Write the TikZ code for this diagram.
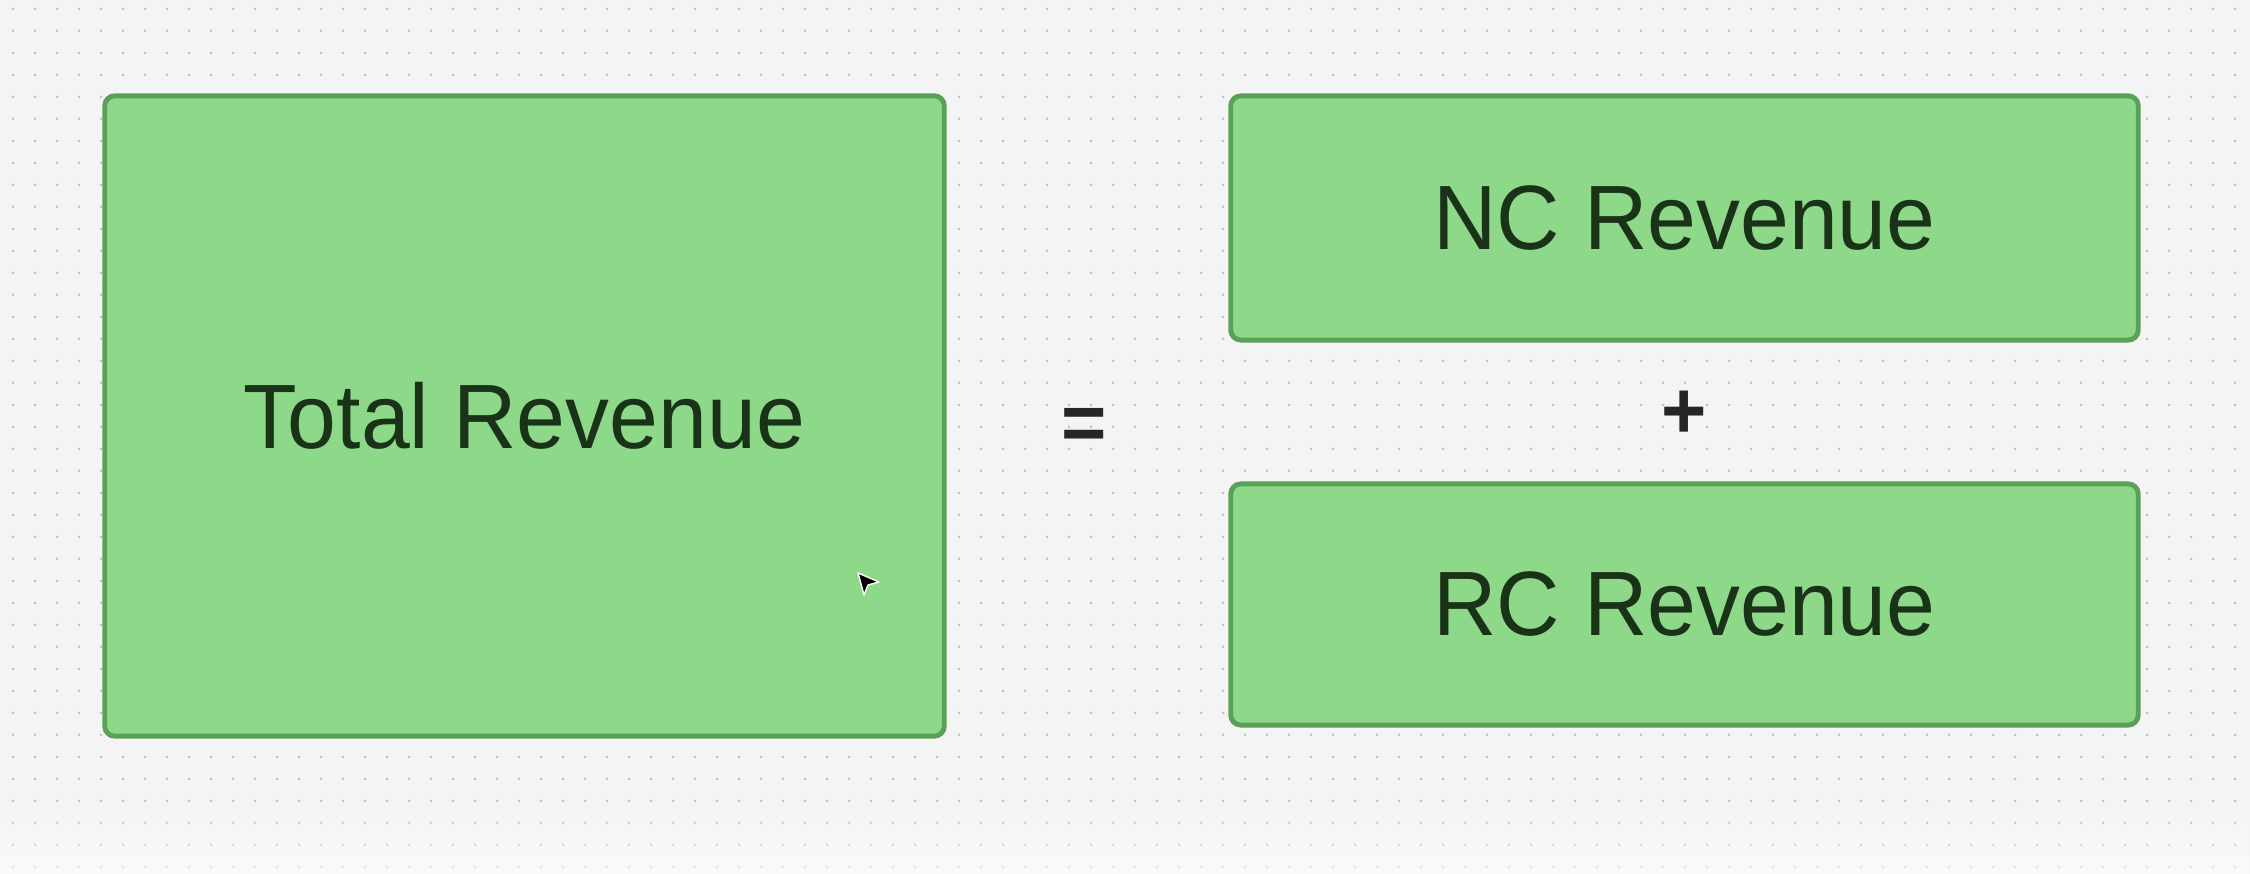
\documentclass[tikz,border=0pt]{standalone}
\usepackage{fontspec}
\usetikzlibrary{fadings}
\newfontfamily\boxfont[FakeStretch=0.96]{Liberation Sans}
\definecolor{revfill}{HTML}{8ED88A}
\definecolor{revline}{HTML}{5AA157}
\definecolor{revtext}{HTML}{1A3318}
\definecolor{canvas}{HTML}{F4F4F4}
\definecolor{griddot}{HTML}{C2C2C2}
\tikzset{
  rev/.style={draw=revline, line width=1.4pt, fill=revfill, rounded corners=0.1cm,
    text=revtext, font=\boxfont\fontsize{26}{30}\selectfont},
  op/.style={text=black!85, font=\boxfont\bfseries\fontsize{23}{27}\selectfont}
}
\begin{document}
\begin{tikzpicture}[x=0.01cm, y=-0.01cm]
      \useasboundingbox (0,0) rectangle (2250,874);
      \fill[canvas] (0,0) rectangle (2250,874);
      \foreach \i in {0,...,101}
        \foreach \j in {0,...,39}
          \fill[griddot] (13+22*\i, 9+22*\j) circle (1.5);
      \fill[white, path fading=north, fill opacity=0.6] (0,800) rectangle (2250,874);
      \node[rev, minimum width=8.39cm, minimum height=6.4cm] (total) at (524.5,416) {Total Revenue};
      \node[rev, minimum width=9.07cm, minimum height=2.44cm] (nc) at (1684.5,218) {NC Revenue};
      \node[rev, minimum width=9.07cm, minimum height=2.41cm] (rc) at (1684.5,604.5) {RC Revenue};
      \node[op] (eq) at (1084,429) {=};
      \node[op] (plus) at (1684,415) {+};
      \draw[fill=black, draw=white, line width=0.4pt, line join=round]
        (858,573) -- (864,595) -- (868,585) -- (879,582) -- cycle;
    \end{tikzpicture}
\end{document}
